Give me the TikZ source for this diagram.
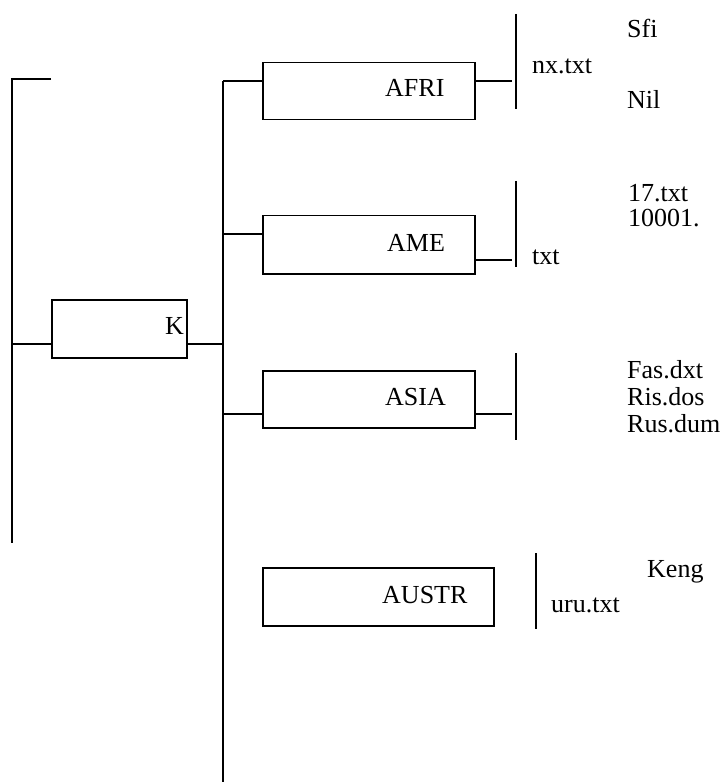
\documentclass[tikz,border=0pt]{standalone}
\usepackage{fontspec}
\setmainfont{Liberation Serif}
\begin{document}
\begin{tikzpicture}[x=1pt,y=-1pt,
  ln/.style={line width=1.5pt},
  box/.style={draw,line width=1.5pt,rectangle,inner sep=0pt,anchor=north west},
  lbl/.style={inner sep=0pt,anchor=base west,font=\fontsize{26}{27}\selectfont}]
\useasboundingbox (0,0) rectangle (725,783);
% left bracket
\coordinate (lt) at (12,79);
\coordinate (lb) at (12,543);
\coordinate (ls) at (51,79);
\coordinate (lk) at (12,344);
\draw[ln] (ls) -- (lt) -- (lb);
% K box
\node[box,minimum width=135pt,minimum height=58pt] (k) at (51,299) {};
\node[lbl,anchor=base east] (kt) at (184,334) {K};
\draw[ln] (lk) -- (lk -| k.west);
% main bar
\coordinate (mt) at (223,81);
\coordinate (mb) at (223,782);
\draw[ln] (mt) -- (mb);
\draw[ln] (k.east |- lk) -- (lk -| mt);
% AFRI
\node[box,minimum width=212pt,minimum height=57pt] (afri) at (262,62) {};
\node[lbl] (afrit) at (385,97) {AFRI};
\coordinate (ar) at (512,81);
\coordinate (a1) at (516,14);
\coordinate (a2) at (516,109);
\draw[ln] (mt) -- (mt -| afri.west);
\draw[ln] (afri.east |- ar) -- (ar);
\draw[ln] (a1) -- (a2);
\node[lbl] (sfi) at (627,38) {Sfi};
\node[lbl] (nx) at (532,74) {nx.txt};
\node[lbl] (nil) at (627,109) {Nil};
% AME
\node[box,minimum width=212pt,minimum height=58pt] (ame) at (262,215) {};
\node[lbl] (amet) at (387,252) {AME};
\coordinate (ml) at (223,234);
\coordinate (mr) at (512,260);
\coordinate (m1) at (516,181);
\coordinate (m2) at (516,267);
\draw[ln] (ml) -- (ml -| ame.west);
\draw[ln] (ame.east |- mr) -- (mr);
\draw[ln] (m1) -- (m2);
\node[lbl] (t17) at (628,202) {17.txt};
\node[lbl] (t10) at (628,227) {10001.};
\node[lbl] (txt) at (532,265) {txt};
% ASIA
\node[box,minimum width=212pt,minimum height=57pt] (asia) at (262,370) {};
\node[lbl] (asiat) at (385,405) {ASIA};
\coordinate (sl) at (223,414);
\coordinate (sr) at (512,414);
\coordinate (s1) at (516,353);
\coordinate (s2) at (516,440);
\draw[ln] (sl) -- (sl -| asia.west);
\draw[ln] (asia.east |- sr) -- (sr);
\draw[ln] (s1) -- (s2);
\node[lbl] (fas) at (627,378) {Fas.dxt};
\node[lbl] (ris) at (627,405) {Ris.dos};
\node[lbl] (rus) at (627,432) {Rus.dum};
% AUSTR
\node[box,minimum width=231pt,minimum height=58pt] (austr) at (262,567) {};
\node[lbl] (austrt) at (382,603) {AUSTR};
\coordinate (u1) at (536,553);
\coordinate (u2) at (536,629);
\draw[ln] (u1) -- (u2);
\node[lbl] (keng) at (647,577) {Keng};
\node[lbl] (uru) at (551,612) {uru.txt};
\end{tikzpicture}
\end{document}
